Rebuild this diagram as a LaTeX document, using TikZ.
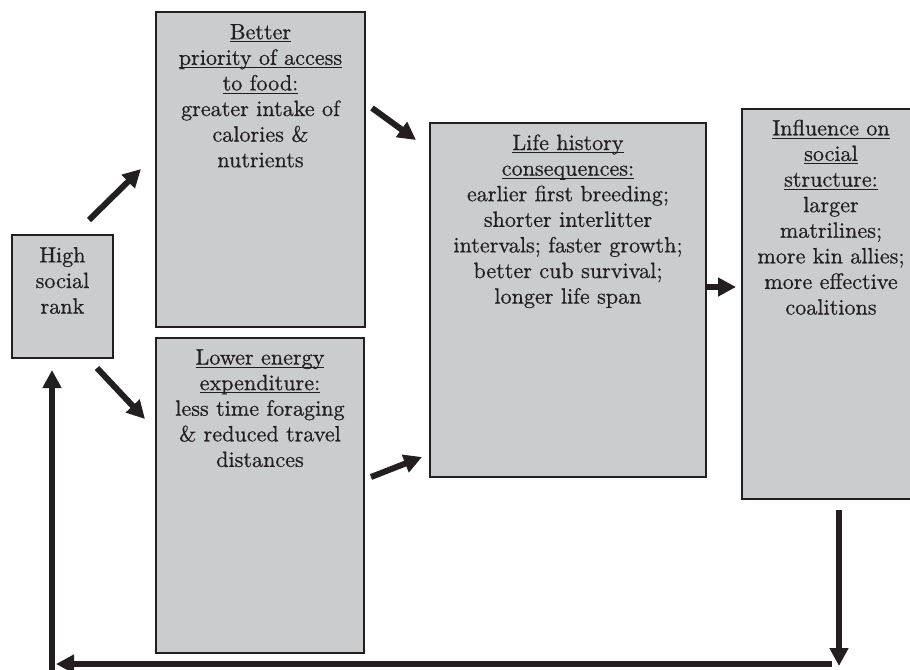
\documentclass[tikz,border=0pt]{standalone}
\usepackage{fontspec}
\setmainfont{lmroman10-regular.otf}[FakeBold=0.6]
\usetikzlibrary{arrows.meta,fit,shadows}
\definecolor{boxfill}{RGB}{203,204,206}
\definecolor{ink}{RGB}{35,31,32}
\newcommand\myul[1]{\leavevmode\setbox0\hbox{#1}\rlap{\rule[-2.4pt]{\wd0}{0.7pt}}\box0}
\begin{document}
\begin{tikzpicture}[x=0.75pt,y=-0.75pt,
  box/.style={draw=ink, line width=1.9pt, fill=boxfill, inner sep=0pt,
    drop shadow={shadow xshift=1pt,shadow yshift=-1pt,opacity=0.35,fill=black!60}},
  txt/.style={anchor=north, align=center, text=ink, inner sep=0pt,
    font=\fontsize{16.6}{19.2}\selectfont},
  arr/.style={draw=ink, line width=4.5pt, -{Triangle[length=13.5pt,width=13.5pt]}},
]
\useasboundingbox (0,0) rectangle (910,669);
\clip (0,0) rectangle (910,669);

% boxes
\node[box, fit={(12,235)(113,358)}] (high) {};
\node[box, fit={(156,12)(365,327)}] (better) {};
\node[box, fit={(156,338)(364,653)}] (lower) {};
\node[box, fit={(430,123)(706,477)}] (life) {};
\node[box, fit={(742,109)(920,499)}] (infl) {};

% texts
\node[txt] (hight) at ([yshift=-9.8pt]high.north) {High\\social\\rank};
\node[txt] (bettert) at ([yshift=-9.8pt]better.north)
  {\myul{Better}\\\myul{priority of access}\\\myul{to food:}\\greater intake of\\calories \&\\nutrients};
\node[txt] (lowert) at ([yshift=-9.3pt]lower.north)
  {\myul{Lower energy}\\\myul{expenditure:}\\less time foraging\\\& reduced travel\\distances};
\node[txt] (lifet) at ([yshift=-9.3pt]life.north)
  {\myul{Life history}\\\myul{consequences:}\\earlier first breeding;\\shorter interlitter\\intervals; faster growth;\\better cub survival;\\longer life span};
\node[txt] (inflt) at ([yshift=-8.8pt]infl.north)
  {\myul{Influence on}\\\myul{social}\\\myul{structure:}\\larger\\matrilines;\\more kin allies;\\more effective\\coalitions};

% arrow end points
\coordinate (a1s) at (89,220);  \coordinate (a1e) at (141,169);
\coordinate (a2s) at (372,108); \coordinate (a2e) at (416,140);
\coordinate (a3s) at (97,368);  \coordinate (a3e) at (145,419);
\coordinate (a4s) at (371,477); \coordinate (a4e) at (422,457);
\coordinate (a5e) at (736,287);
\coordinate (d1) at (839,510);  \coordinate (d2) at (839,666);
\coordinate (h1) at (832,664);  \coordinate (h2) at (56,664);
\coordinate (v1) at (52,672);   \coordinate (v2) at (52,370);

\draw[arr] (a1s) -- (a1e);
\draw[arr] (a2s) -- (a2e);
\draw[arr] (a3s) -- (a3e);
\draw[arr] (a4s) -- (a4e);
\draw[arr] (life.east |- a5e) -- (a5e);
\draw[arr] (d1) -- (d2);
\draw[arr] (h1) -- (h2);
\draw[arr] (v1) -- (v2);
\end{tikzpicture}
\end{document}
